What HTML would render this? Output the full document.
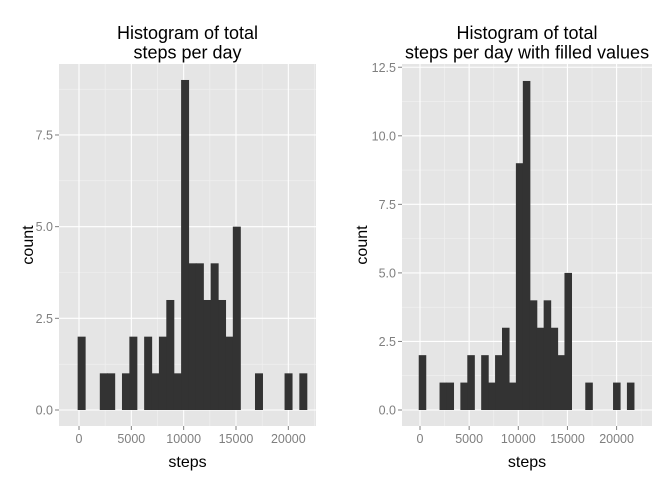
<!DOCTYPE html>
<html><head><meta charset="utf-8"><style>
body{margin:0;background:#fff}
svg{display:block;font-family:"Liberation Sans",sans-serif}
</style></head><body>
<svg id="c" width="672" height="480"></svg>
<script>
const binStart = -130;
const binWidth = 706;
const countsOriginal = [2,0,0,1,1,0,1,2,0,2,1,2,3,1,9,4,4,3,4,3,2,5,0,0,1,0,0,0,1,0,1];
const countsFilled   = [2,0,0,1,1,0,1,2,0,2,1,2,3,1,9,12,4,3,4,3,2,5,0,0,1,0,0,0,1,0,1];
const xTicks = [0,5000,10000,15000,20000];
const yTicksLeft = [0,2.5,5,7.5];
const yTicksRight = [0,2.5,5,7.5,10,12.5];
const yLabelsLeft = ["0.0","2.5","5.0","7.5"];
const yLabelsRight = ["0.0","2.5","5.0","7.5","10.0","12.5"];

const svg=document.getElementById('c');
const NS='http://www.w3.org/2000/svg';
function mk(t,a,p){const e=document.createElementNS(NS,t);for(const k in a)e.setAttribute(k,a[k]);(p||svg).appendChild(e);return e;}

function panel(o){
  const g=mk('g',{});
  
  
  const X=v=>o.x0+v*o.xs, Y=v=>o.y0-v*o.ys;
  const bg=mk('rect',{x:o.l,y:o.t,width:o.r-o.l,height:o.b-o.t,fill:'#e5e5e5'},g);
  
  
  for(let i=0;i<o.yt.length;i++){const v=o.yt[i]+1.25;const y=Y(v);if(y>o.t)mk('line',{x1:o.l,x2:o.r,y1:y,y2:y,stroke:'#f2f2f2','stroke-width':0.6},g);}
  {const y=Y(-1.25);if(y<o.b)mk('line',{x1:o.l,x2:o.r,y1:y,y2:y,stroke:'#f2f2f2','stroke-width':0.6},g);}
  for(let v=-2500;v<=22500;v+=5000){const x=X(v);if(x>o.l&&x<o.r)mk('line',{x1:x,x2:x,y1:o.t,y2:o.b,stroke:'#f2f2f2','stroke-width':0.6},g);}
  o.yt.forEach((v,i)=>{const y=Y(v);mk('line',{x1:o.l,x2:o.r,y1:y,y2:y,stroke:'#fff','stroke-width':1.1},g);
    mk('line',{x1:o.l-4,x2:o.l,y1:y,y2:y,stroke:'#7f7f7f'},g);
    const t=mk('text',{x:o.l-6,y:y+4.5,'text-anchor':'end','font-size':12.5,fill:'#7f7f7f'},g);t.textContent=o.yl[i];
    });
  xTicks.forEach(v=>{const x=X(v);mk('line',{x1:x,x2:x,y1:o.t,y2:o.b,stroke:'#fff','stroke-width':1.1},g);
    mk('line',{x1:x,x2:x,y1:o.b,y2:o.b+4,stroke:'#7f7f7f'},g);
    const t=mk('text',{x:x,y:o.b+17,'text-anchor':'middle','font-size':12.5,fill:'#7f7f7f'},g);t.textContent=v;
    });
  o.c.forEach((c,i)=>{if(!c)return;const x1=X(binStart+i*binWidth),x2=X(binStart+(i+1)*binWidth);
    const b=mk('rect',{x:x1,y:Y(c),width:x2-x1+0.6,height:Y(0)-Y(c),fill:'#333'},g);
    });
  const cx=(o.l+o.r)/2;
  o.title.forEach((s,i)=>{const t=mk('text',{x:cx,y:39+i*19.5,'text-anchor':'middle','font-size':18,fill:'#000'},g);t.textContent=s;
    });
  const xl=mk('text',{x:cx,y:467,'text-anchor':'middle','font-size':16,fill:'#000'},g);xl.textContent='steps';
  
  const yl=mk('text',{x:0,y:0,'text-anchor':'middle','font-size':16,fill:'#000',transform:`translate(${o.yx},${(o.t+o.b)/2}) rotate(-90)`},g);yl.textContent='count';
  
}
panel({name:'left-histogram',l:59,r:316,t:64,b:426,x0:79,xs:104.67/10000,y0:410,ys:36.67,c:countsOriginal,yt:yTicksLeft,yl:yLabelsLeft,title:['Histogram of total','steps per day'],yx:33});
panel({name:'right-histogram',l:402,r:652,t:64,b:426,x0:420,xs:98.3/10000,y0:410,ys:27.42,c:countsFilled,yt:yTicksRight,yl:yLabelsRight,title:['Histogram of total','steps per day with filled values'],yx:367});
</script>
</body></html>
